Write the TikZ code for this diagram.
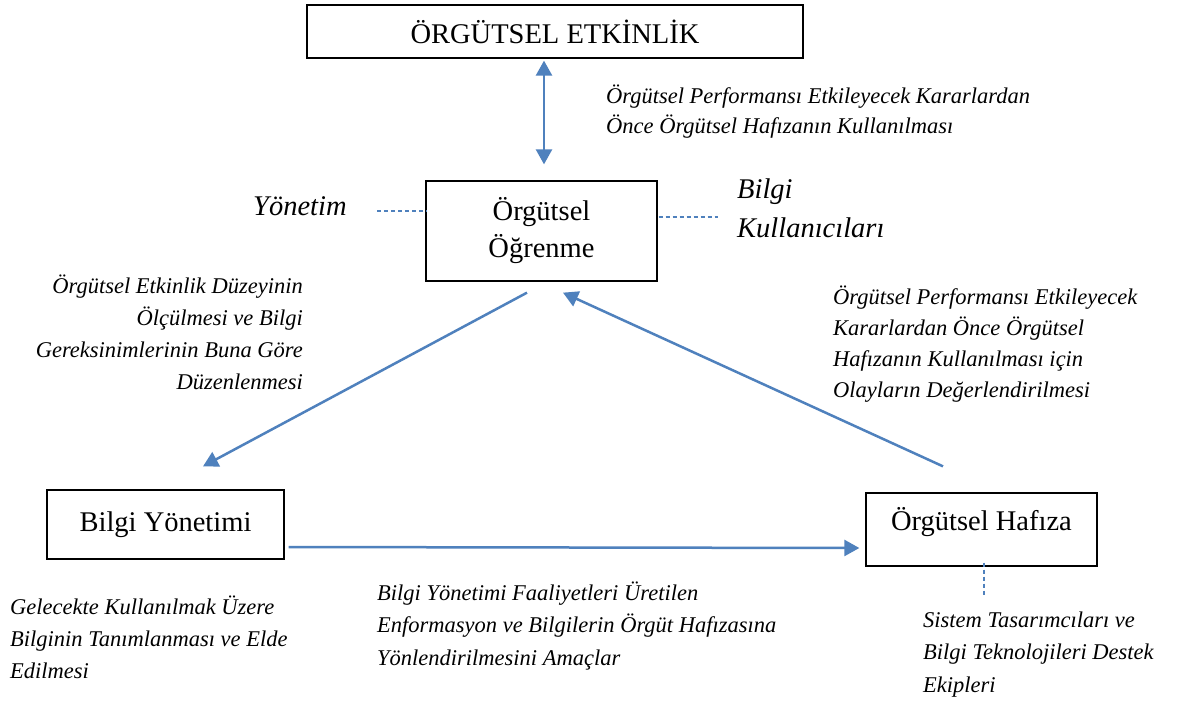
\documentclass[tikz,border=0pt]{standalone}
\usepackage{fontspec}
\setmainfont{Liberation Serif}
\usetikzlibrary{arrows.meta,calc}
\definecolor{arrblue}{RGB}{79,129,189}
\newcommand\smallstrut{\rule{0pt}{22pt}}
\newcommand\bigstrut{\rule{0pt}{28pt}}
\begin{document}
\begin{tikzpicture}[x=1pt,y=-1pt,
  box/.style={draw=black,line width=1.3pt,inner sep=0pt,font=\fontsize{28.5}{37}\selectfont,align=center},
  arr/.style={draw=arrblue,line width=2.5pt,-{Triangle[length=15pt,width=16pt]}},
  dblarr/.style={draw=arrblue,line width=2.5pt,{Triangle[length=15pt,width=16pt]}-{Triangle[length=15pt,width=16pt]}},
  dline/.style={draw=arrblue,line width=1.2pt,dash pattern=on 4pt off 3pt},
  lab/.style={inner sep=0pt,align=left},
  small/.style={font=\fontsize{22.5}{#1}\selectfont\itshape},
  big/.style={font=\fontsize{28.5}{#1}\selectfont\itshape}]
\path[fill=white,use as bounding box] (0,0) rectangle (1184,702);

% boxes
\node[box,minimum width=496,minimum height=53] (etk) at (555,31.5) {ÖRGÜTSEL ETKİNLİK};
\node[box,minimum width=231,minimum height=100] (ogr) at (541.5,231) {Örgütsel\\Öğrenme};
\node[box,minimum width=237,minimum height=69] (bys) at (165.5,524.5) {Bilgi Yönetimi};
\node[box,minimum width=231,minimum height=73,text height=18pt,text depth=17pt] (haf) at (981.5,529.5) {Örgütsel Hafıza};

% labels
\node[lab,small=30.5,anchor=north west] (lab1) at (606,81) {\smallstrut Örgütsel Performansı Etkileyecek Kararlardan\\Önce Örgütsel Hafızanın Kullanılması};
\node[lab,big=38,anchor=north west] (yon) at (253,187) {\bigstrut Yönetim};
\node[lab,big=39,anchor=north west] (kul) at (737,170) {\bigstrut Bilgi\\Kullanıcıları};
\node[lab,small=32,anchor=north east,align=right] (lft) at (303,271) {\smallstrut Örgütsel Etkinlik Düzeyinin\\Ölçülmesi ve Bilgi\\Gereksinimlerinin Buna Göre\\Düzenlenmesi};
\node[lab,small=31,anchor=north west] (rgt) at (833,282) {\smallstrut Örgütsel Performansı Etkileyecek\\Kararlardan Önce Örgütsel\\Hafızanın Kullanılması için\\Olayların Değerlendirilmesi};
\node[lab,small=32,anchor=north west] (bl) at (10,592) {\smallstrut Gelecekte Kullanılmak Üzere\\Bilginin Tanımlanması ve Elde\\Edilmesi};
\node[lab,small=32.5,anchor=north west] (bm) at (377,578) {\smallstrut Bilgi Yönetimi Faaliyetleri Üretilen\\Enformasyon ve Bilgilerin Örgüt Hafızasına\\Yönlendirilmesini Amaçlar};
\node[lab,small=32.5,anchor=north west] (br) at (923,605) {\smallstrut Sistem Tasarımcıları ve\\Bilgi Teknolojileri Destek\\Ekipleri};

% connector end points
\coordinate (e1) at ($(etk.south)+(-11,2)$);
\coordinate (e2) at ($(ogr.north)+(2.5,-16)$);
\coordinate (o1) at ($(ogr.south)+(-14.5,11)$);
\coordinate (o2) at ($(ogr.south)+(21.5,11)$);
\coordinate (b1) at ($(bys.north)+(37.5,-23)$);
\coordinate (b2) at ($(bys.east)+(4,22.5)$);
\coordinate (h1) at ($(haf.north)+(-38.5,-26)$);
\coordinate (h2) at ($(haf.west)+(-6,18.5)$);
\coordinate (y1) at (377,211);
\coordinate (y2) at ($(ogr.west)+(2,-20)$);
\coordinate (k1) at ($(ogr.east)+(1,-14)$);
\coordinate (k2) at (718,217);
\coordinate (s1) at ($(haf.south)+(2.5,-4)$);
\coordinate (s2) at (984,595);

% arrows
\draw[dblarr] (e1) -- (e2);
\draw[arr] (o1) -- (b1);
\draw[arr] (h1) -- (o2);
\draw[arr] (b2) -- (h2);

% dashed links
\draw[dline] (y1) -- (y2);
\draw[dline] (k1) -- (k2);
\draw[dline] (s1) -- (s2);
\end{tikzpicture}
\end{document}
